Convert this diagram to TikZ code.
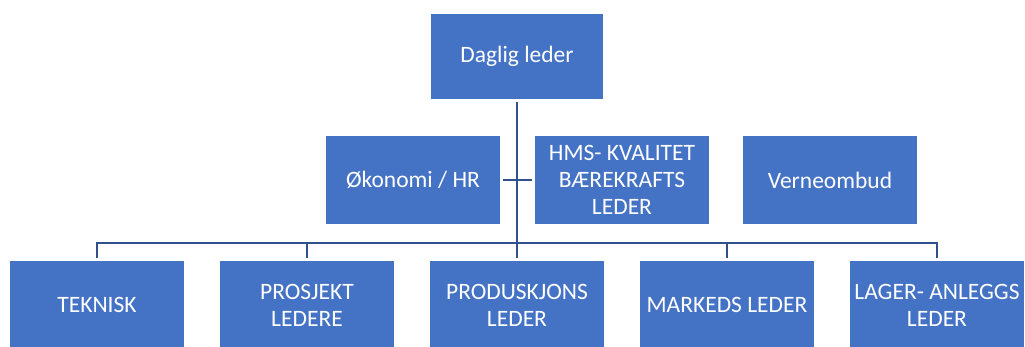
\documentclass[tikz,border=0pt]{standalone}
\usepackage{fontspec}
\setmainfont{Carlito}
\usetikzlibrary{positioning,shadows}
\definecolor{boksblaa}{HTML}{4472C4}
\definecolor{linjeblaa}{HTML}{2F528F}
\tikzstyle{boks}=[rectangle,draw=white,line width=3pt,fill=boksblaa,text=white,minimum width=177pt,minimum height=91pt,inner sep=2pt,align=center,font=\fontsize{23.5}{27}\selectfont,drop shadow={shadow xshift=1pt,shadow yshift=-1pt,fill=black,opacity=0.3}]
\tikzstyle{linje}=[draw=linjeblaa,line width=2.5pt]

\begin{document}
\begin{tikzpicture}[x=1pt,y=-1pt]
\useasboundingbox (0,0) rectangle (1025,347);

\node[boks,minimum width=175pt,minimum height=88pt] (daglig) at (517,56.5) {Daglig leder};
\node[boks] (okonomi) at (413,180) {Økonomi / HR};
\node[boks] (hms) [right =29pt of okonomi] {HMS- KVALITET\\BÆREKRAFTS\\LEDER};
\node[boks] (verne) [right =28pt of hms] {Verneombud};
\node[boks] (teknisk) at (97,305) {TEKNISK};
\node[boks] (prosjekt) [right =30pt of teknisk] {PROSJEKT\\LEDERE};
\node[boks] (produksjon) [right =30pt of prosjekt] {PRODUSKJONS\\LEDER};
\node[boks] (marked) [right =30pt of produksjon] {MARKEDS LEDER};
\node[boks] (lager) [right =30pt of marked] {LAGER- ANLEGGS\\LEDER};

\coordinate (buss) at (daglig.south |- 0,243);
\draw[linje] (daglig.south) -- (buss);
\draw[linje] (okonomi.east) -- (hms.west);
\foreach \barn in {teknisk,prosjekt,produksjon,marked,lager}
  \draw[linje] (buss) -| (\barn.north);

\end{tikzpicture}
\end{document}
